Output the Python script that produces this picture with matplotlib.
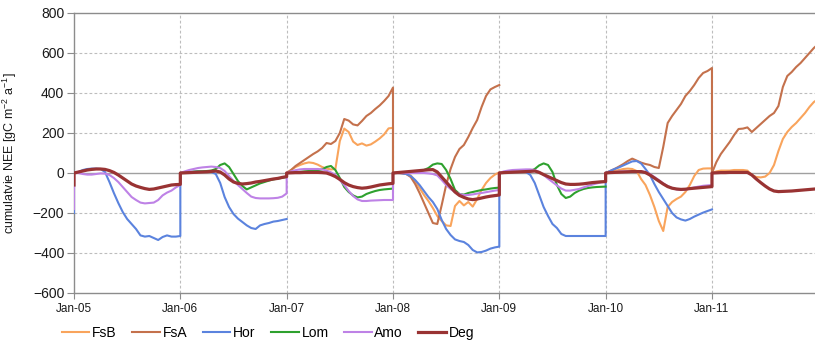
import numpy as np
import matplotlib
matplotlib.use("Agg")
import matplotlib.pyplot as plt

plt.rcParams['font.family'] = ['Liberation Sans', 'DejaVu Sans']
plt.rcParams['mathtext.fontset'] = 'custom'
plt.rcParams['mathtext.rm'] = 'Liberation Sans'
plt.rcParams['mathtext.it'] = 'Liberation Sans'

# Cumulative NEE per site, reset every 1 January; 25 samples per year (every ~half month)
years = [2005, 2006, 2007, 2008, 2009, 2010, 2011]
steps_per_year = 24

fsb = {
    2007: [0, 15, 30, 40, 48, 53, 50, 42, 30, 22, 18, 20, 160, 222, 205, 157, 140, 148, 137, 143, 157, 173, 193, 223, 226],
    2008: [0, 0, -3, -5, -12, -40, -75, -110, -140, -175, -215, -240, -262, -265, -165, -140, -162, -145, -168, -130, -85, -50, -25, -8, 3],
    2010: [0, 5, 10, 15, 20, 22, 20, 10, -30, -60, -110, -170, -240, -290, -170, -145, -130, -118, -95, -60, -15, 15, 22, 23, 23],
    2011: [0, 8, 12, 12, 12, 15, 15, 15, 12, -10, -20, -22, -18, 0, 40, 110, 170, 205, 230, 250, 275, 300, 330, 355, 370],
}
fsa = {
    2007: [0, 15, 35, 50, 65, 80, 95, 108, 125, 150, 145, 160, 200, 270, 262, 243, 238, 260, 285, 300, 320, 338, 360, 385, 427],
    2008: [0, 2, 0, -5, -20, -55, -100, -150, -200, -250, -255, -160, -60, 20, 80, 120, 140, 180, 225, 265, 330, 385, 418, 430, 440],
    2010: [0, 10, 20, 32, 45, 60, 72, 62, 52, 45, 40, 30, 25, 130, 250, 285, 315, 345, 385, 410, 440, 475, 500, 510, 525],
    2011: [0, 55, 95, 125, 155, 190, 220, 222, 228, 205, 225, 245, 265, 285, 300, 335, 430, 485, 505, 530, 550, 575, 600, 625, 645],
}
hor = {
    2005: [0, 5, 15, 20, 22, 22, 20, 5, -45, -100, -150, -195, -230, -255, -280, -312, -318, -315, -325, -335, -320, -312, -318, -318, -315],
    2006: [0, 3, 5, 7, 8, 8, 8, 5, -5, -50, -120, -170, -205, -228, -245, -262, -275, -280, -262, -255, -250, -243, -240, -235, -230],
    2008: [0, 0, -2, -5, -15, -35, -60, -90, -120, -145, -180, -235, -280, -310, -332, -340, -345, -360, -385, -397, -395, -388, -378, -372, -368],
    2009: [0, 3, 4, 5, 5, 5, 5, -10, -50, -110, -170, -215, -255, -275, -305, -315, -315, -315, -315, -315, -315, -315, -315, -315, -315],
    2010: [0, 10, 20, 28, 38, 48, 58, 60, 48, 20, -10, -55, -95, -130, -165, -200, -222, -232, -238, -230, -218, -208, -198, -190, -182],
}
lom = {
    2006: [0, 2, 4, 6, 8, 8, 10, 12, 20, 40, 48, 30, -5, -40, -65, -82, -72, -62, -52, -45, -38, -32, -28, -24, -20],
    2007: [0, 2, 4, 6, 8, 10, 12, 14, 18, 30, 35, 15, -25, -70, -95, -112, -122, -118, -105, -97, -90, -85, -82, -80, -78],
    2008: [0, 1, 2, 4, 6, 8, 10, 15, 25, 42, 48, 45, 15, -30, -85, -105, -108, -100, -95, -90, -85, -82, -78, -75, -73],
    2009: [0, 2, 3, 5, 6, 7, 8, 10, 20, 38, 48, 40, 5, -60, -105, -125, -118, -100, -88, -80, -75, -72, -70, -69, -68],
}
amo = {
    2005: [0, 0, -5, -8, -8, -5, -2, -3, -10, -25, -45, -70, -95, -120, -135, -148, -152, -150, -148, -135, -112, -98, -88, -72, -60],
    2006: [0, 8, 15, 20, 25, 28, 30, 32, 30, 25, 10, -15, -40, -60, -80, -100, -118, -125, -127, -127, -127, -126, -124, -118, -102],
    2007: [0, 8, 14, 18, 20, 20, 20, 20, 18, 12, 3, -10, -35, -60, -90, -115, -132, -140, -140, -138, -137, -136, -135, -135, -135],
    2008: [0, 0, 0, 0, 0, 0, 0, 0, -2, -5, -12, -35, -60, -80, -95, -105, -110, -110, -107, -103, -100, -96, -92, -88, -85],
    2009: [0, 8, 12, 15, 16, 17, 18, 18, 15, 5, -10, -28, -45, -62, -78, -88, -88, -84, -80, -72, -65, -58, -52, -47, -43],
    2010: [0, 3, 5, 7, 8, 8, 8, 8, 8, 5, -5, -20, -35, -52, -65, -75, -82, -85, -83, -78, -72, -68, -64, -62, -60],
}
deg = {
    2005: [0, 5, 10, 15, 18, 20, 20, 18, 12, 3, -10, -25, -40, -55, -65, -72, -78, -82, -80, -75, -70, -65, -60, -58, -57],
    2006: [0, 1, 2, 3, 4, 5, 6, 8, 10, 5, -10, -30, -45, -52, -55, -53, -50, -45, -42, -38, -34, -30, -27, -22, -18],
    2007: [0, 1, 2, 2, 3, 3, 3, 3, 2, 0, -8, -18, -32, -48, -60, -68, -73, -76, -74, -70, -65, -60, -57, -54, -52],
    2008: [0, 2, 4, 6, 8, 10, 12, 14, 16, 17, 5, -20, -45, -70, -95, -112, -122, -130, -133, -130, -125, -120, -116, -113, -110],
    2009: [0, 2, 3, 4, 5, 6, 7, 8, 10, 3, -8, -18, -28, -38, -48, -55, -57, -57, -56, -54, -51, -48, -46, -44, -43],
    2010: [0, 2, 3, 4, 5, 6, 7, 7, 7, 2, -10, -25, -40, -55, -68, -76, -80, -82, -81, -78, -76, -74, -72, -70, -68],
    2011: [0, 1, 2, 2, 3, 3, 3, 3, 3, -10, -30, -48, -65, -80, -90, -93, -92, -91, -90, -88, -86, -84, -82, -80, -79],
}
# values carried in on the very first day of the record
start_2005 = {"Hor": -200, "Amo": -180, "Deg": -60}

names = ["FsB", "FsA", "Hor", "Lom", "Amo", "Deg"]
tables = [fsb, fsa, hor, lom, amo, deg]
colors = ["#F9A45C", "#C4714C", "#5B83DE", "#2EA12E", "#BE82E6", "#993333"]
widths = [1.5, 1.5, 1.5, 1.5, 1.5, 2.3]
tick_labels = ["Jan-05", "Jan-06", "Jan-07", "Jan-08", "Jan-09", "Jan-10", "Jan-11"]


def build_series(table, start=None):
    xs, ys = [], []
    prev = None
    frac = np.arange(steps_per_year + 1) / steps_per_year
    if start is not None:
        xs.append(float(years[0]))
        ys.append(start)
    for yr in years:
        if yr not in table:
            continue
        if prev is not None and yr != prev + 1:
            xs.append(np.nan)
            ys.append(np.nan)
        xs.extend(yr + frac)
        ys.extend(table[yr])
        prev = yr
    return np.array(xs, dtype=float), np.array(ys, dtype=float)


fig = plt.figure(figsize=(8.15, 3.44), dpi=100)
ax = fig.add_axes([74 / 815, 51 / 344, 744.3 / 815, 280 / 344])

grid_col = "#BDBDBD"
axis_col = "#8C8C8C"

for yv in range(-400, 800, 200):
    if yv == 0:
        continue
    ax.axhline(yv, color=grid_col, lw=0.8, ls=(0, (2.5, 2)), zorder=0)
for xv in range(2006, 2013):
    ax.axvline(xv, color=grid_col, lw=0.8, ls=(0, (2.5, 2)), zorder=0)
ax.axhline(0, color="#A0A0A0", lw=1.0, zorder=1)

for name, table, col, lw in zip(names, tables, colors, widths):
    x, y = build_series(table, start_2005.get(name))
    ax.plot(x, y, color=col, lw=lw, label=name, zorder=3, solid_joinstyle="round")

ax.set_xlim(2005, 2012)
ax.set_ylim(-600, 800)
ax.set_yticks(range(-600, 801, 200))
ax.set_xticks(years)
ax.set_xticklabels(tick_labels)

for side in ["left", "bottom", "top", "right"]:
    ax.spines[side].set_color(axis_col)
    ax.spines[side].set_linewidth(1.0)

ax.tick_params(axis="y", length=5, width=0.8, color=axis_col, labelsize=10, pad=2, labelcolor="#1a1a1a")
ax.tick_params(axis="x", length=4, width=0.8, color=axis_col, labelsize=8.5, pad=3, labelcolor="#1a1a1a")

ax.set_ylabel("cumulatvie NEE [gC m$^{-2}$ a$^{-1}$]", fontsize=9, color="#1a1a1a")
ax.yaxis.set_label_coords(-0.0745, 0.5)

fig.legend(loc="center", bbox_to_anchor=(268 / 815, 11 / 344), ncol=6, frameon=False,
           fontsize=10, handlelength=2.0, handletextpad=0.2, columnspacing=1.1)

fig.savefig("out.png", dpi=100)
